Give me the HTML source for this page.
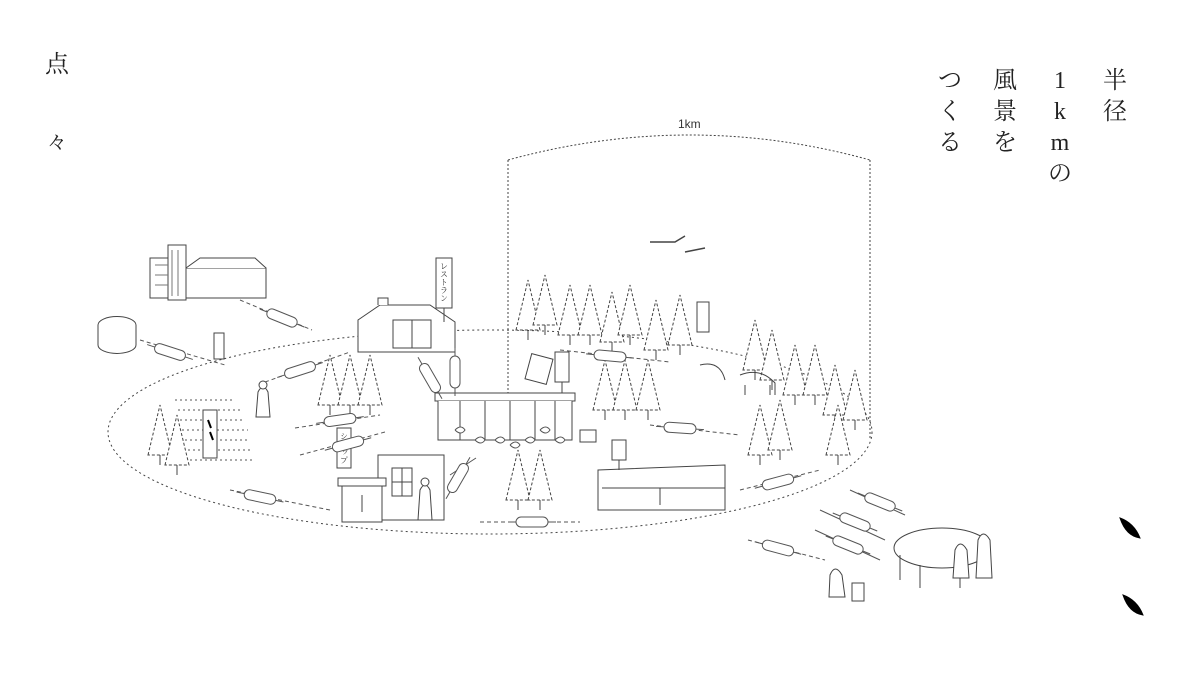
<!DOCTYPE html>
<html><head><meta charset="utf-8"><style>
html,body{margin:0;padding:0;background:#fff;}
body{width:1200px;height:675px;position:relative;overflow:hidden;font-family:"Liberation Serif","Noto Serif CJK SC",serif;color:#222;}
.v{position:absolute;font-size:24px;line-height:31px;width:30px;text-align:center;}
</style></head><body>
<div class="v" style="left:42px;top:50px">点</div>
<div class="v" style="left:42px;top:128px;font-size:20px">々</div>
<div class="v" style="left:1100px;top:66px">半<br>径</div>
<div class="v" style="left:1045px;top:66px">1<br>k<br>m<br>の</div>
<div class="v" style="left:990px;top:66px">風<br>景<br>を</div>
<div class="v" style="left:935px;top:66px">つ<br>く<br>る</div>
<svg width="1200" height="675" style="position:absolute;left:0;top:0" fill="none" stroke="#444" stroke-width="1">
<defs>
<g id="tr"><path d="M-12,0 L0,-50 L12,0 Z" stroke-dasharray="3 2" fill="#fff"/><path d="M0,0 V10"/></g>
<g id="tag"><rect x="-16" y="-5" width="32" height="10" rx="5" fill="#fff"/><path d="M-24,0 H-16 M16,0 H24"/></g>
</defs>
<text x="678" y="128" font-size="12" fill="#333" stroke="none" font-family="Liberation Sans,sans-serif">1km</text>
<path d="M508,160 Q690,110 870,160" stroke-dasharray="2 2"/>
<path d="M508,160 V440 M870,160 V440" stroke-dasharray="2 2"/>
<ellipse cx="490" cy="432" rx="382" ry="102" stroke-dasharray="2 3"/>
<g>
<use href="#tr" x="160" y="455"/><use href="#tr" x="177" y="465"/>
<use href="#tr" x="330" y="405"/><use href="#tr" x="350" y="405"/><use href="#tr" x="370" y="405"/>
<use href="#tr" x="528" y="330"/><use href="#tr" x="545" y="325"/><use href="#tr" x="570" y="335"/><use href="#tr" x="590" y="335"/><use href="#tr" x="612" y="342"/><use href="#tr" x="630" y="335"/><use href="#tr" x="656" y="350"/><use href="#tr" x="680" y="345"/>
<use href="#tr" x="605" y="410"/><use href="#tr" x="625" y="410"/><use href="#tr" x="648" y="410"/>
<use href="#tr" x="755" y="370"/><use href="#tr" x="772" y="380"/><use href="#tr" x="795" y="395"/><use href="#tr" x="815" y="395"/><use href="#tr" x="835" y="415"/><use href="#tr" x="855" y="420"/>
<use href="#tr" x="760" y="455"/><use href="#tr" x="780" y="450"/><use href="#tr" x="838" y="455"/>
<use href="#tr" x="518" y="500"/><use href="#tr" x="540" y="500"/>
</g>
<g fill="#fff">
<rect x="150" y="258" width="20" height="40"/><rect x="168" y="245" width="18" height="55"/><rect x="186" y="268" width="80" height="30"/><path d="M186,268 L200,258 H255 L266,268"/>
<path d="M172,250 V296 M178,250 V296 M155,265 H168 M155,275 H168 M155,285 H168" stroke="#777"/>
<path d="M98,325 A18,8 0 0,1 136,325 V345 A18,8 0 0,1 98,345 Z"/>
</g>
<g fill="#fff">
<path d="M358,320 L380,305 L430,305 L455,322 V352 H358 Z"/><path d="M378,305 V298 H388 V305"/>
<rect x="393" y="320" width="38" height="28"/><path d="M412,320 V348"/>
<rect x="436" y="258" width="16" height="50"/><path d="M444,308 V322"/>
<text x="444" y="262" font-size="8" fill="#333" stroke="none" writing-mode="tb">レストラン</text>
</g>
<g fill="#fff">
<rect x="435" y="393" width="140" height="8"/><path d="M438,401 V440 H572 V401 M460,401 V440 M485,401 V440 M510,401 V440 M535,401 V440 M555,401 V440"/>
<rect x="528" y="356" width="22" height="26" transform="rotate(15 539 369)"/>
<rect x="555" y="352" width="14" height="30"/><path d="M562,382 V393"/>
<rect x="580" y="430" width="16" height="12"/>
</g>
<g fill="#fff" stroke="#555">
<path d="M455,430 q6,-6 10,0 q-4,6 -10,0"/><path d="M495,440 q6,-6 10,0 q-4,6 -10,0"/><path d="M510,445 q6,-6 10,0 q-4,6 -10,0"/><path d="M525,440 q6,-6 10,0 q-4,6 -10,0"/><path d="M540,430 q6,-6 10,0 q-4,6 -10,0"/><path d="M475,440 q6,-6 10,0 q-4,6 -10,0"/><path d="M555,440 q6,-6 10,0 q-4,6 -10,0"/>
</g>
<g fill="#fff">
<rect x="378" y="455" width="66" height="65"/><rect x="392" y="468" width="20" height="28"/><path d="M402,468 V496 M392,482 H412"/>
<rect x="338" y="478" width="48" height="8"/><rect x="342" y="486" width="40" height="36"/><path d="M362,495 V512"/>
<rect x="337" y="428" width="14" height="40"/><text x="344" y="432" font-size="8" fill="#333" stroke="none" writing-mode="tb">ショップ</text>
<path d="M420,490 q5,-10 10,0 l2,30 h-14 Z"/><circle cx="425" cy="482" r="4"/>
</g>
<g fill="#fff">
<path d="M598,470 L725,465 V510 H598 Z"/><path d="M598,470 V490 M602,488 H725 M598,488 V510"/><path d="M660,488 V505"/>
<rect x="612" y="440" width="14" height="20"/><path d="M619,460 V470"/>
</g>
<g stroke="#555" stroke-dasharray="2 3">
<path d="M175,400 H235 M178,410 H240 M180,420 H245 M182,430 H248 M185,440 H250 M188,450 H252 M190,460 H254"/>
</g>
<rect x="203" y="410" width="14" height="48" fill="#fff"/><path d="M208,420 l3,8 M210,432 l3,8" stroke="#000" stroke-width="2"/>
<path d="M258,392 q5,-10 10,0 l2,25 h-14 Z" fill="#fff"/><circle cx="263" cy="385" r="4" fill="#fff"/>
<ellipse cx="942" cy="548" rx="48" ry="20" fill="#fff"/><path d="M900,555 V580 M920,565 V588 M960,565 V588 M985,555 V578"/>
<path d="M955,550 q5,-12 12,0 l2,28 h-16 Z M978,540 q5,-12 12,0 l2,38 h-16 Z" fill="#fff"/>
<path d="M830,575 q5,-12 12,0 l3,22 h-16 Z" fill="#fff"/><rect x="852" y="583" width="12" height="18" fill="#fff"/>
<path d="M700,365 q20,-5 25,15 M740,375 q20,-8 35,8 l0,12 M745,385 v10 M770,385 v10" />
<path d="M650,242 l25,0 l10,-6 M685,252 l20,-4" stroke-width="1.5"/>
<g fill="#fff"><rect x="214" y="333" width="10" height="26"/><rect x="697" y="302" width="12" height="30"/></g>
<g stroke="#555">
<path d="M240,300 L312,330" stroke-dasharray="4 3"/><use href="#tag" transform="translate(282,318) rotate(22)"/>
<path d="M140,340 L225,365" stroke-dasharray="4 3"/><use href="#tag" transform="translate(170,352) rotate(18)"/>
<path d="M265,382 L350,352" stroke-dasharray="4 3"/><use href="#tag" transform="translate(300,370) rotate(-18)"/>
<path d="M295,428 L380,415" stroke-dasharray="4 3"/><use href="#tag" transform="translate(340,420) rotate(-8)"/>
<path d="M300,455 L385,432" stroke-dasharray="4 3"/><use href="#tag" transform="translate(348,444) rotate(-15)"/>
<path d="M230,490 L330,510" stroke-dasharray="4 3"/><use href="#tag" transform="translate(260,497) rotate(12)"/>
<path d="M450,475 L476,458"/><use href="#tag" transform="translate(458,478) rotate(-60)"/>
<path d="M480,522 H580" stroke-dasharray="4 3"/><use href="#tag" transform="translate(532,522)"/>
<use href="#tag" transform="translate(430,378) rotate(60)"/><use href="#tag" transform="translate(455,372) rotate(90)"/>
<path d="M560,350 L670,362" stroke-dasharray="4 3"/><use href="#tag" transform="translate(610,356) rotate(5)"/>
<path d="M650,425 L740,435" stroke-dasharray="4 3"/><use href="#tag" transform="translate(680,428) rotate(4)"/>
<path d="M740,490 L820,470" stroke-dasharray="4 3"/><use href="#tag" transform="translate(778,482) rotate(-15)"/>
<path d="M850,490 L905,515" /><use href="#tag" transform="translate(880,502) rotate(22)"/>
<path d="M820,510 L885,540" /><use href="#tag" transform="translate(855,522) rotate(22)"/>
<path d="M815,530 L880,560" /><use href="#tag" transform="translate(848,545) rotate(22)"/>
<path d="M748,540 L825,560" stroke-dasharray="4 3"/><use href="#tag" transform="translate(778,548) rotate(15)"/>
</g>
<path d="M1120,518 q14,5 20,20 q-14,-2 -20,-20 Z M1123,595 q14,5 20,20 q-14,-2 -20,-20 Z" fill="#000" stroke="#000"/>
</svg>
</body></html>
